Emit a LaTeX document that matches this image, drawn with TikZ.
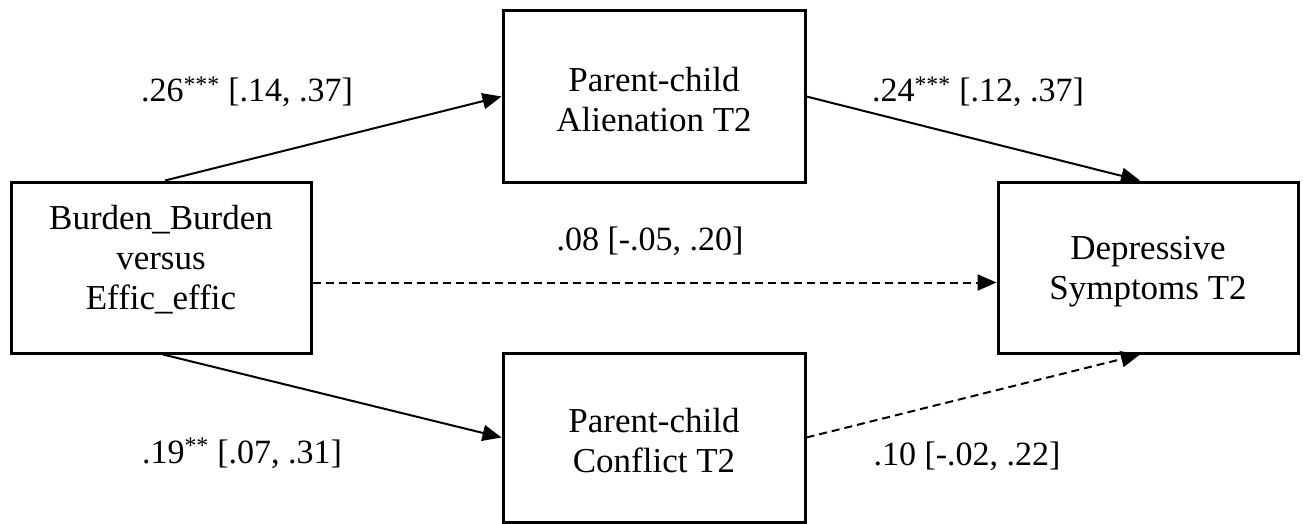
\documentclass[tikz,border=0pt]{standalone}
\usepackage{fontspec}
\setmainfont{Liberation Serif}
\usetikzlibrary{arrows.meta}
\begin{document}
\begin{tikzpicture}[x=1pt,y=-1pt,
  box/.style={draw, line width=3pt, inner sep=0pt},
  boxtext/.style={inner sep=0pt, align=center, font=\fontsize{35}{40}\selectfont},
  lab/.style={anchor=base, inner sep=0pt, font=\fontsize{34}{40}\selectfont},
  conn/.style={line width=2pt, -{Triangle[length=19pt,width=16pt]}},
  dconn/.style={conn, dash pattern=on 8pt off 5pt}]
\useasboundingbox (0,0) rectangle (1303,524);
\fill[white] (0,0) rectangle (1303,524);
\node[box, minimum width=300pt, minimum height=171pt] (L) at (161,267.5) {};
\node[box, minimum width=302pt, minimum height=171pt] (A) at (654,96.5) {};
\node[box, minimum width=302pt, minimum height=169pt] (C) at (654,437.5) {};
\node[box, minimum width=300pt, minimum height=171pt] (D) at (1148,267.5) {};
\node[boxtext] (Lt) at (161,260) {Burden\_Burden\\versus\\Effic\_effic};
\node[boxtext] (At) at (654,99.5) {Parent-child\\Alienation T2};
\node[boxtext] (Ct) at (654,441) {Parent-child\\Conflict T2};
\node[boxtext] (Dt) at (1148,272) {Depressive\\Symptoms T2};
\draw[conn] ([xshift=4pt]L.north) -- (A.west);
\draw[conn] ([xshift=2pt]L.south) -- (C.west);
\draw[conn] (A.east) -- ([xshift=-8pt]D.north);
\draw[dconn] (C.east) -- ([xshift=-8pt]D.south);
\draw[dconn] ([yshift=-15pt]L.east) -- ([yshift=-15pt]D.west);
\node[lab] (l1) at (247,102) {.26\textsuperscript{***} [.14, .37]};
\node[lab] (l2) at (978,102) {.24\textsuperscript{***} [.12, .37]};
\node[lab] (l3) at (650,250) {.08 [-.05, .20]};
\node[lab] (l4) at (242,463) {.19\textsuperscript{**} [.07, .31]};
\node[lab] (l5) at (967,465) {.10 [-.02, .22]};
\end{tikzpicture}
\end{document}
